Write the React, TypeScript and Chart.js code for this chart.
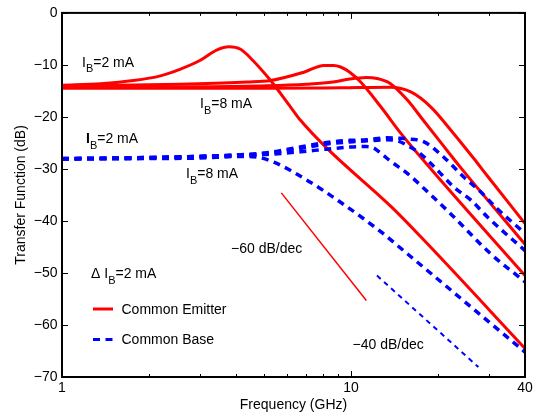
import React, { useEffect, useRef } from 'react';
import { Chart, registerables } from 'chart.js';

Chart.register(...registerables);

const FONT = "'Liberation Sans', Arial, Helvetica, sans-serif";

// ---- Data (frequency in GHz, transfer function in dB) ----
// Common Emitter, I_B = 2, 4, 6, 8 mA
const ce2_f = [1, 1.36, 1.77, 2.19, 2.57, 3.01, 3.44, 3.78, 4.15, 4.55, 5.27, 6.18, 6.7, 8.28, 13.8, 17.4, 40];
const ce2_db = [-13.9, -13.6, -13.0, -12.1, -10.8, -9.1, -7.1, -6.5, -7.0, -9.0, -13.0, -18.1, -20.7, -26.1, -37.3, -43.0, -64.5];
const ce4_f = [1, 2.57, 4.37, 5.27, 6.87, 8.06, 8.72, 9.2, 9.9, 10.8, 12.7, 14.9, 19.1, 40];
const ce4_db = [-14.1, -13.7, -13.3, -13.0, -11.4, -10.1, -10.1, -10.4, -11.4, -13.3, -18.1, -23.2, -30.3, -50.5];
const ce6_f = [1, 3, 5.1, 7, 8.66, 9.9, 11.3, 12.3, 13.7, 15.7, 17.7, 20.5, 24, 40];
const ce6_db = [-14.3, -14.2, -14.0, -13.7, -13.3, -12.7, -12.4, -12.6, -13.6, -16.8, -20.5, -25.0, -29.8, -44.5];
const ce8_f = [1, 5, 9.2, 13.7, 16.1, 18.9, 22.2, 26.6, 29.6, 40];
const ce8_db = [-14.5, -14.5, -14.4, -14.3, -15.2, -18.1, -22.6, -28.0, -31.3, -40.5];

// Common Base, I_B = 2, 4, 6, 8 mA
const cb2_f = [1, 2, 3, 4.15, 4.7, 5.41, 7.06, 9.2, 12.7, 14.9, 40];
const cb2_db = [-28.1, -28.0, -27.9, -27.6, -27.7, -28.7, -32.2, -36.4, -42.1, -45.3, -65.2];
const cb4_f = [1, 2, 4, 5.1, 6.7, 8.2, 9.9, 11.3, 12.0, 12.7, 13.7, 15.7, 18.9, 22.1, 30.4, 40];
const cb4_db = [-28.0, -27.8, -27.4, -27.2, -26.7, -26.2, -25.8, -25.7, -26.0, -27.0, -28.5, -30.9, -35.0, -38.6, -46.3, -51.7];
const cb6_f = [1, 2, 4, 5.1, 6.66, 8.24, 9.9, 11.3, 13.3, 14.5, 15.6, 17.9, 20.9, 24.6, 28.1, 32.0, 40];
const cb6_db = [-28.0, -27.8, -27.3, -26.9, -25.8, -24.9, -24.5, -24.4, -24.0, -24.1, -24.2, -24.8, -27.7, -31.6, -34.4, -37.6, -42.4];
const cb8_f = [1, 2, 4, 5.1, 6.66, 8.24, 9.9, 11.3, 13.3, 14.5, 15.7, 17.4, 19.4, 22.7, 26.0, 29.6, 40];
const cb8_db = [-28.1, -27.9, -27.4, -27.0, -26.1, -25.2, -24.8, -24.6, -24.4, -24.6, -25.5, -27.1, -29.6, -33.5, -36.0, -39.2, -45.7];

// Slope reference lines
const slope60_f = [5.74, 11.3];
const slope60_db = [-34.6, -55.3];
const slope40_f = [12.3, 27.6];
const slope40_db = [-50.5, -68.1];

// Axes
const xTickValues = [1, 10, 40];
const xMinorValues = [2, 3, 4, 5, 6, 7, 8, 9, 20, 30];
const yTickValues = [-70, -60, -50, -40, -30, -20, -10, 0];

const RED = '#ff0000';
const BLUE = '#0000ff';

const zip = (f: number[], v: number[]) => f.map((x, i) => ({ x, y: v[i] }));

function drawIB(ctx: CanvasRenderingContext2D, x: number, y: number, rest: string, boldI = false) {
  ctx.font = (boldI ? 'bold ' : '') + '14px ' + FONT;
  ctx.fillText('I', x, y);
  let w = ctx.measureText('I').width;
  ctx.font = '11px ' + FONT;
  ctx.fillText('B', x + w, y + 5.5);
  w += ctx.measureText('B').width;
  ctx.font = '14px ' + FONT;
  ctx.fillText(rest, x + w, y);
}

const framePlugin = {
  id: 'frame',
  afterDatasetsDraw(chart: any) {
    const { ctx, chartArea: a, scales } = chart;
    const xs = scales.x;
    const ys = scales.y;
    ctx.save();
    ctx.strokeStyle = '#000';
    ctx.lineWidth = 1;
    ctx.beginPath();
    yTickValues.forEach((v) => {
      const y = Math.round(ys.getPixelForValue(v)) + 0.5;
      ctx.moveTo(a.left, y);
      ctx.lineTo(a.left + 6, y);
      ctx.moveTo(a.right, y);
      ctx.lineTo(a.right - 6, y);
    });
    xTickValues.forEach((v) => {
      const x = Math.round(xs.getPixelForValue(v)) + 0.5;
      ctx.moveTo(x, a.bottom);
      ctx.lineTo(x, a.bottom - 6);
      ctx.moveTo(x, a.top);
      ctx.lineTo(x, a.top + 6);
    });
    xMinorValues.forEach((v) => {
      const x = Math.round(xs.getPixelForValue(v)) + 0.5;
      ctx.moveTo(x, a.bottom);
      ctx.lineTo(x, a.bottom - 3);
      ctx.moveTo(x, a.top);
      ctx.lineTo(x, a.top + 3);
    });
    ctx.stroke();
    ctx.lineWidth = 2;
    ctx.strokeRect(a.left, a.top, a.right - a.left, a.bottom - a.top);

    // annotations
    ctx.fillStyle = '#000';
    ctx.textBaseline = 'alphabetic';
    ctx.textAlign = 'left';
    drawIB(ctx, 82, 66.5, '=2 mA');
    drawIB(ctx, 200, 108, '=8 mA');
    drawIB(ctx, 86, 143, '=2 mA', true);
    drawIB(ctx, 186, 178, '=8 mA');
    ctx.font = '14px ' + FONT;
    ctx.fillText('\u0394 ', 91, 278);
    const dw = ctx.measureText('\u0394 ').width;
    drawIB(ctx, 91 + dw, 278, '=2 mA');
    ctx.font = '14px ' + FONT;
    ctx.fillText('\u221260 dB/dec', 231, 252.5);
    ctx.fillText('\u221240 dB/dec', 352.5, 349);

    // legend
    ctx.lineWidth = 3;
    ctx.strokeStyle = RED;
    ctx.beginPath();
    ctx.moveTo(93, 309);
    ctx.lineTo(113, 309);
    ctx.stroke();
    ctx.strokeStyle = BLUE;
    ctx.setLineDash([7, 5.5]);
    ctx.beginPath();
    ctx.moveTo(93, 339.5);
    ctx.lineTo(113, 339.5);
    ctx.stroke();
    ctx.setLineDash([]);
    ctx.fillStyle = '#000';
    ctx.font = '14px ' + FONT;
    ctx.fillText('Common Emitter', 121.5, 314);
    ctx.fillText('Common Base', 121.5, 344);
    ctx.restore();
  },
};

export default function App() {
  const ref = useRef<HTMLCanvasElement | null>(null);

  useEffect(() => {
    if (!ref.current) return;
    const cbStyle = { borderColor: BLUE, borderWidth: 3.5, borderDash: [7, 5.5], pointRadius: 0, fill: false, cubicInterpolationMode: 'monotone' as const, borderCapStyle: 'butt' as const };
    const ceStyle = { borderColor: RED, borderWidth: 3, pointRadius: 0, fill: false, cubicInterpolationMode: 'monotone' as const, borderJoinStyle: 'round' as const };
    const chart = new Chart(ref.current, {
      type: 'line',
      data: {
        datasets: [
          { label: 'CB 2 mA', data: zip(cb2_f, cb2_db), ...cbStyle },
          { label: 'CB 4 mA', data: zip(cb4_f, cb4_db), ...cbStyle },
          { label: 'CB 6 mA', data: zip(cb6_f, cb6_db), ...cbStyle },
          { label: 'CB 8 mA', data: zip(cb8_f, cb8_db), ...cbStyle },
          { label: '-40 dB/dec', data: zip(slope40_f, slope40_db), borderColor: BLUE, borderWidth: 2, borderDash: [5, 4.5], pointRadius: 0 },
          { label: 'CE 2 mA', data: zip(ce2_f, ce2_db), ...ceStyle },
          { label: 'CE 4 mA', data: zip(ce4_f, ce4_db), ...ceStyle },
          { label: 'CE 6 mA', data: zip(ce6_f, ce6_db), ...ceStyle },
          { label: 'CE 8 mA', data: zip(ce8_f, ce8_db), ...ceStyle },
          { label: '-60 dB/dec', data: zip(slope60_f, slope60_db), borderColor: RED, borderWidth: 1.5, pointRadius: 0 },
        ],
      },
      options: {
        animation: false,
        responsive: false,
        parsing: true,
        layout: { padding: { left: 0, right: 11, top: 12, bottom: 0 } },
        plugins: { legend: { display: false }, tooltip: { enabled: false }, title: { display: false } },
        scales: {
          x: {
            type: 'logarithmic',
            min: 1,
            max: 40,
            grid: { display: false, drawTicks: false },
            border: { display: false },
            afterBuildTicks: (s: any) => {
              s.ticks = xTickValues.map((v) => ({ value: v }));
            },
            afterFit: (s: any) => {
              s.height = 43;
            },
            ticks: {
              autoSkip: false,
              maxRotation: 0,
              padding: 3,
              color: '#000',
              font: { family: FONT, size: 14 },
              callback: (v: any) => String(v),
            },
            title: {
              display: true,
              text: 'Frequency (GHz)',
              color: '#000',
              font: { family: FONT, size: 14 },
              padding: { top: 0, bottom: 6.5 },
            },
          },
          y: {
            type: 'linear',
            min: -70,
            max: 0,
            grid: { display: false, drawTicks: false },
            border: { display: false },
            afterBuildTicks: (s: any) => {
              s.ticks = yTickValues.map((v) => ({ value: v }));
            },
            afterFit: (s: any) => {
              s.width = 62;
            },
            ticks: {
              padding: 4.5,
              color: '#000',
              font: { family: FONT, size: 14 },
              callback: (v: any) => (v < 0 ? '\u2212' + Math.abs(v) : String(v)),
            },
            title: {
              display: true,
              text: 'Transfer Function (dB)',
              color: '#000',
              font: { family: FONT, size: 14 },
              padding: { top: 12.5, bottom: 0 },
            },
          },
        },
      } as any,
      plugins: [framePlugin],
    });
    return () => chart.destroy();
  }, []);

  return (
    <div style={{ position: 'absolute', left: 0, top: 0, width: 536, height: 420, background: '#fff' }}>
      <canvas ref={ref} width={536} height={420} style={{ width: 536, height: 420 }} />
    </div>
  );
}
